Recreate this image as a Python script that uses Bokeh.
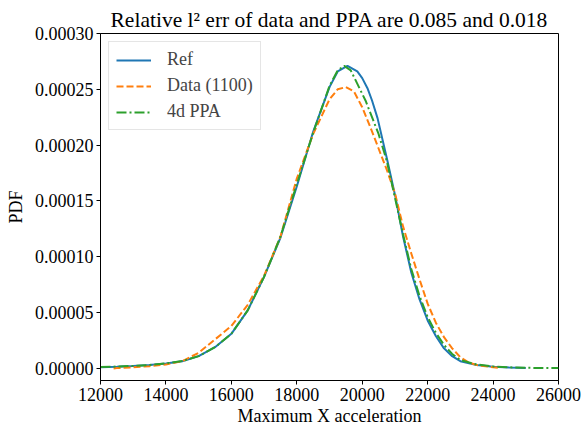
from bokeh.plotting import figure
from bokeh.models import Range1d, NumeralTickFormatter, FixedTicker, Legend, LegendItem, Title
from bokeh.embed import file_html
from bokeh.resources import INLINE

# Reference PDF
ref_x = [12000, 12500, 13000, 13500, 14000, 14500, 15000, 15500, 16000, 16500, 17000, 17500,
         18000, 18500, 19000, 19250, 19550, 19850, 20000, 20160, 20300, 20470, 20770, 21020, 21250,
         21500, 21750, 22000, 22250, 22500, 22750, 23000, 23500, 24000, 24500, 25000]
ref_y = [0.0000010, 0.0000015, 0.0000022, 0.0000030, 0.0000045, 0.0000065, 0.000011, 0.000019,
         0.000031, 0.000052, 0.000082, 0.000117, 0.000163, 0.000212, 0.000252, 0.000266, 0.000271,
         0.000266, 0.000260, 0.000251, 0.000240, 0.000224, 0.000186, 0.000153, 0.000118, 0.000086,
         0.000062, 0.000043, 0.000029, 0.000018, 0.000011, 0.0000065, 0.0000030, 0.0000015,
         0.0000008, 0.0000004]

# Data (1100 samples)
data_x = [12400, 12500, 13000, 13500, 14000, 14500, 15000, 15500, 16000, 16500, 17000, 17500,
          18000, 18500, 19000, 19250, 19500, 19750, 20000, 20250, 20500, 20750, 21000, 21250,
          21500, 21750, 22000, 22250, 22500, 22750, 23000, 23250, 23500, 24000, 24200]
data_y = [0.0, 0.0000003, 0.0000010, 0.0000020, 0.0000035, 0.0000065, 0.000014, 0.000026,
          0.000038, 0.000057, 0.000083, 0.000118, 0.000170, 0.000210, 0.000241, 0.000250, 0.000252,
          0.000248, 0.000234, 0.000216, 0.000197, 0.000178, 0.000157, 0.000127, 0.000103, 0.000080,
          0.000058, 0.000041, 0.000028, 0.000018, 0.000010, 0.0000055, 0.0000030, 0.0000010, 0.0000005]

# 4d PPA
ppa_x = [12000, 12500, 13000, 13500, 14000, 14500, 15000, 15500, 16000, 16500, 17000, 17500,
         18000, 18500, 19000, 19250, 19450, 19650, 19900, 20100, 20500, 20750, 21000, 21250,
         21500, 21750, 22000, 22250, 22500, 22750, 23000, 23500, 24000, 24500, 25000, 25500, 26000]
ppa_y = [0.0000012, 0.0000017, 0.0000023, 0.0000031, 0.0000045, 0.0000066, 0.000011, 0.000019,
         0.000031, 0.000052, 0.000082, 0.000118, 0.000165, 0.000211, 0.000253, 0.000267, 0.000271,
         0.000267, 0.000252, 0.000240, 0.000210, 0.000186, 0.000153, 0.000120, 0.000089, 0.000065,
         0.000046, 0.000032, 0.000021, 0.000013, 0.0000075, 0.0000035, 0.0000018, 0.0000010,
         0.0000006, 0.0000004, 0.0000003]

x_ticks = [12000, 14000, 16000, 18000, 20000, 22000, 24000, 26000]
y_ticks = [0.0, 0.00005, 0.0001, 0.00015, 0.0002, 0.00025, 0.0003]

FONT = "Liberation Serif"

title = Title(text="Relative l\u00b2 err of data and PPA are 0.085 and 0.018",
              text_font=FONT, text_font_size="21.5px", text_font_style="normal",
              align="center", text_color="black", standoff=4)

p = figure(width=581, height=431, output_backend="svg", toolbar_location=None,
           x_range=Range1d(12000, 26000), y_range=Range1d(-0.0000108, 0.0003),
           min_border_left=100, min_border_right=23, min_border_top=33, min_border_bottom=51,
           title=title)

r1 = p.line(ref_x, ref_y, line_color="#1f77b4", line_width=2)
r2 = p.line(data_x, data_y, line_color="#ff7f0e", line_width=2, line_dash="7 3")
r3 = p.line(ppa_x, ppa_y, line_color="#2ca02c", line_width=2, line_dash="10 3 2 3")

p.xgrid.visible = False
p.ygrid.visible = False
p.outline_line_color = "black"
p.outline_line_width = 1
p.background_fill_color = "white"
p.border_fill_color = "white"

for ax in (p.xaxis[0], p.yaxis[0]):
    ax.major_label_text_font = FONT
    ax.major_label_text_font_size = "18px"
    ax.major_label_text_color = "black"
    ax.axis_label_text_font = FONT
    ax.axis_label_text_font_size = "18px"
    ax.axis_label_text_font_style = "normal"
    ax.axis_label_text_color = "black"
    ax.major_tick_in = 0
    ax.major_tick_out = 4
    ax.minor_tick_line_color = None
    ax.axis_line_color = "black"
    ax.major_tick_line_color = "black"

p.xaxis[0].ticker = FixedTicker(ticks=x_ticks)
p.yaxis[0].ticker = FixedTicker(ticks=y_ticks)
p.yaxis[0].formatter = NumeralTickFormatter(format="0.00000")
p.xaxis[0].axis_label = "Maximum X acceleration"
p.yaxis[0].axis_label = "PDF"
p.xaxis[0].major_label_standoff = 3
p.yaxis[0].major_label_standoff = 3
p.xaxis[0].axis_label_standoff = 2
p.yaxis[0].axis_label_standoff = 6

legend = Legend(items=[LegendItem(label="Ref", renderers=[r1]),
                       LegendItem(label="Data (1100)", renderers=[r2]),
                       LegendItem(label="4d PPA", renderers=[r3])],
                location="top_left")
legend.margin = 8
legend.padding = 7
legend.spacing = 5
legend.label_height = 20
legend.glyph_height = 20
legend.glyph_width = 35
legend.label_standoff = 16
legend.label_text_font = FONT
legend.label_text_font_size = "18px"
legend.border_line_color = "#cccccc"
legend.border_line_width = 1
legend.background_fill_alpha = 0.8
p.add_layout(legend)

open("out.html", "w").write(file_html(p, INLINE))
